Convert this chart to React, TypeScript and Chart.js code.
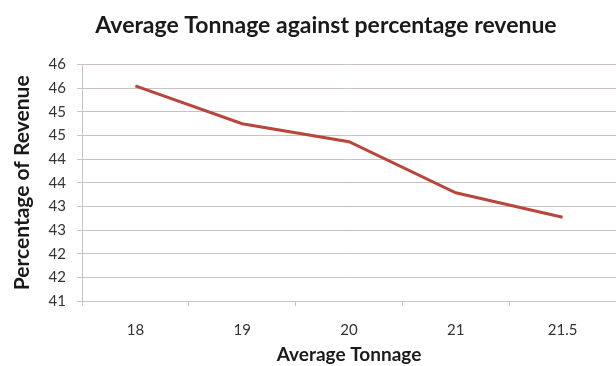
import React, { useEffect, useRef } from "react";
import { Chart, registerables } from "chart.js";

Chart.register(...registerables);

const categories = ["18", "19", "20", "21", "21.5"];
const revenuePct = [45.55, 44.75, 44.37, 43.29, 42.77];
const yMin = 41;
const yMax = 46;
const yStep = 0.5;

const chartTitle = "Average Tonnage against percentage revenue";
const xTitle = "Average Tonnage";
const yTitle = "Percentage of Revenue";

const FONT = "Lato, 'Open Sans', sans-serif";
const GRID = "#cbc1c1";
const TEXT = "#333333";

export default function App() {
  const ref = useRef<HTMLCanvasElement | null>(null);

  useEffect(() => {
    document.body.style.margin = "0";
    const canvas = ref.current;
    if (!canvas) return;
    const chart = new Chart(canvas, {
      type: "line",
      data: {
        labels: categories,
        datasets: [
          {
            data: revenuePct,
            borderColor: "#b9463d",
            borderWidth: 3,
            pointRadius: 0,
            tension: 0,
            fill: false,
          },
        ],
      },
      options: {
        animation: false,
        responsive: false,
        maintainAspectRatio: false,
        layout: { padding: { left: 30, right: -6, top: 0, bottom: 0 } },
        plugins: {
          legend: { display: false },
          tooltip: { enabled: false },
          title: {
            display: true,
            text: chartTitle,
            color: "#1a1a1a",
            font: { family: FONT, size: 23, weight: "bold" },
            padding: { top: 12, bottom: 25 },
          },
        },
        scales: {
          x: {
            type: "category",
            offset: true,
            grid: {
              offset: true,
              drawOnChartArea: false,
              drawTicks: true,
              tickLength: 5,
              color: GRID,
            },
            border: { color: GRID, width: 1 },
            ticks: {
              color: TEXT,
              font: { family: FONT, size: 15 },
              padding: 15,
            },
            title: {
              display: true,
              text: xTitle,
              color: "#1a1a1a",
              font: { family: FONT, size: 19, weight: "bold" },
              padding: { top: 0, bottom: 0 },
            },
            afterFit: (scale: any) => {
              scale.height = 65;
            },
          },
          y: {
            min: yMin,
            max: yMax,
            grid: {
              color: GRID,
              tickLength: 5,
              lineWidth: 1,
            },
            border: { color: GRID, width: 1 },
            ticks: {
              stepSize: yStep,
              color: TEXT,
              font: { family: FONT, size: 15 },
              padding: 11,
              callback: (v: any) => String(Math.round(Number(v))),
            },
            title: {
              display: true,
              text: yTitle,
              color: "#1a1a1a",
              font: { family: FONT, size: 21, weight: "bold" },
              padding: { top: -20, bottom: 0 },
            },
            afterFit: (scale: any) => {
              scale.width = 52;
            },
          },
        },
      },
    });
    return () => chart.destroy();
  }, []);

  return (
    <div style={{ width: 616, height: 366, background: "#ffffff", overflow: "hidden" }}>
      <canvas ref={ref} width={616} height={366} style={{ display: "block" }} />
    </div>
  );
}
